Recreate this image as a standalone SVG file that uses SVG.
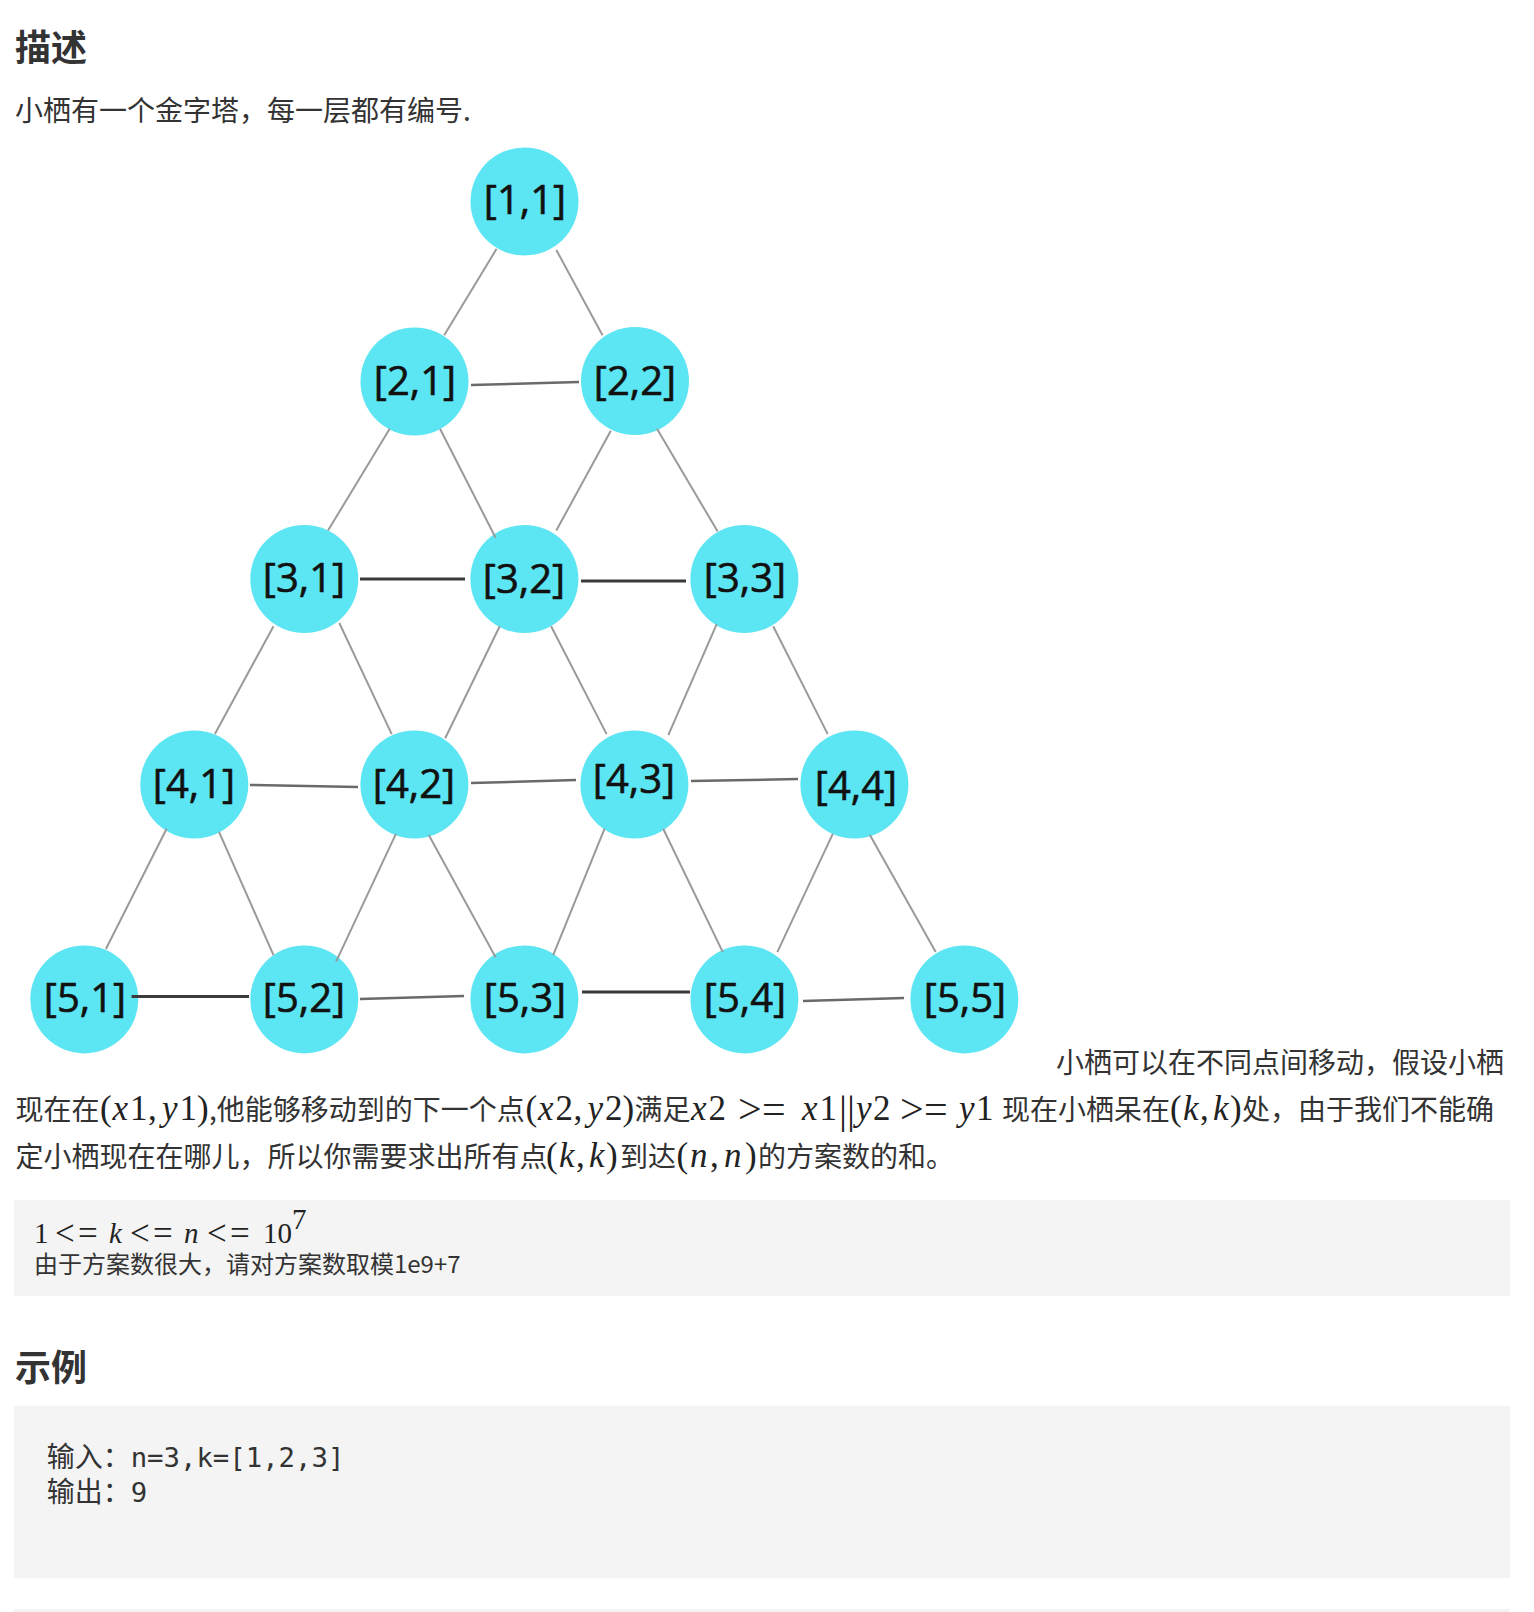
<svg xmlns="http://www.w3.org/2000/svg" width="1534" height="1612" viewBox="0 0 1534 1612">
<style>
.h{font-family:"Noto Sans CJK SC","Noto Sans",sans-serif;font-weight:bold;font-size:36px;fill:#333}
.t{font-family:"Noto Sans CJK SC","Noto Sans",sans-serif;font-size:28px;fill:#333}
.s{font-family:"Noto Sans CJK SC","Noto Sans",sans-serif;font-size:24px;fill:#333}
.m{font-family:"Liberation Serif","Times New Roman",serif;font-size:35px;fill:#222}
.mb{font-family:"Liberation Serif","Times New Roman",serif;font-size:29px;fill:#222}
.i{font-style:italic}
.r{font-size:42px}
.rb{font-size:35px}
.bar{font-size:40px}
.mono{font-family:"DejaVu Sans Mono","Liberation Mono",monospace;font-size:27.3px;fill:#333}
.node circle{fill:#5ce5f3}
.node text{font-family:"Open Sans","Noto Sans",sans-serif;font-size:40px;fill:#111;stroke:#111;stroke-width:0.6;text-anchor:middle}
.d{stroke:#9a9a9a;stroke-width:2;fill:none}
.k{stroke:#3a3a3a;stroke-width:3;fill:none}
.g{stroke:#6a6a6a;stroke-width:2.5;fill:none}
.box{fill:#f4f4f4}
</style>
<rect width="1534" height="1612" fill="#fff"/>
<text class="h" x="15" y="61">描述</text>
<text class="t" x="15" y="121">小栖有一个金字塔，每一层都有编号.</text>

<g id="nodes">
<g id="n11" class="node"><circle cx="524.5" cy="201.5" r="54"/><text x="525" y="214">[1,1]</text></g>
<g id="n21" class="node"><circle cx="414.5" cy="381.5" r="54"/><text x="415" y="395">[2,1]</text></g>
<g id="n22" class="node"><circle cx="635" cy="381" r="54"/><text x="635" y="395">[2,2]</text></g>
<g id="n31" class="node"><circle cx="304.3" cy="579" r="54"/><text x="304" y="592">[3,1]</text></g>
<g id="n32" class="node"><circle cx="524.4" cy="579" r="54"/><text x="524" y="593">[3,2]</text></g>
<g id="n33" class="node"><circle cx="744.4" cy="579" r="54"/><text x="745" y="592">[3,3]</text></g>
<g id="n41" class="node"><circle cx="194.3" cy="784.5" r="54"/><text x="194" y="798">[4,1]</text></g>
<g id="n42" class="node"><circle cx="414.4" cy="784.5" r="54"/><text x="414" y="798">[4,2]</text></g>
<g id="n43" class="node"><circle cx="634.4" cy="784.5" r="54"/><text x="634" y="793">[4,3]</text></g>
<g id="n44" class="node"><circle cx="854.4" cy="784.5" r="54"/><text x="856" y="800">[4,4]</text></g>
<g id="n51" class="node"><circle cx="84.3" cy="999.4" r="54"/><text x="85" y="1012">[5,1]</text></g>
<g id="n52" class="node"><circle cx="304.3" cy="999.4" r="54"/><text x="304" y="1012">[5,2]</text></g>
<g id="n53" class="node"><circle cx="524.4" cy="999.4" r="54"/><text x="525" y="1012">[5,3]</text></g>
<g id="n54" class="node"><circle cx="744.4" cy="999.4" r="54"/><text x="745" y="1012">[5,4]</text></g>
<g id="n55" class="node"><circle cx="964.4" cy="999.4" r="54"/><text x="965" y="1012">[5,5]</text></g>
</g>

<g id="connectors">
<line class="d" x1="496.6" y1="248.8" x2="444.2" y2="335.2"/>
<line class="d" x1="556.3" y1="249.9" x2="602.5" y2="335.2"/>
<line class="g" x1="471" y1="385" x2="579" y2="382"/>
<line class="d" x1="389.7" y1="428.8" x2="328" y2="530.5"/>
<line class="d" x1="440" y1="428.8" x2="495.6" y2="537.7"/>
<line class="d" x1="610.8" y1="430.8" x2="556.3" y2="530.5"/>
<line class="d" x1="657" y1="428.8" x2="717.7" y2="531.6"/>
<line class="k" x1="360" y1="579" x2="465" y2="579"/>
<line class="k" x1="581" y1="581" x2="686" y2="581"/>
<line class="d" x1="273.5" y1="626.2" x2="214.9" y2="734.1"/>
<line class="d" x1="339.3" y1="623" x2="391.7" y2="734.1"/>
<line class="d" x1="499.7" y1="626.2" x2="445.2" y2="738.2"/>
<line class="d" x1="551.1" y1="626.2" x2="606.6" y2="734.1"/>
<line class="d" x1="716.7" y1="624.1" x2="668.3" y2="735.2"/>
<line class="d" x1="773.2" y1="626.2" x2="827.7" y2="734.1"/>
<line class="g" x1="250" y1="785" x2="358" y2="787"/>
<line class="g" x1="471" y1="783" x2="576" y2="780"/>
<line class="g" x1="691" y1="781" x2="798" y2="779"/>
<line class="d" x1="166.6" y1="828.7" x2="105.9" y2="949"/>
<line class="d" x1="219" y1="831.8" x2="273.5" y2="955.2"/>
<line class="d" x1="395.9" y1="833.9" x2="336.2" y2="961.4"/>
<line class="d" x1="428.8" y1="834.9" x2="495.6" y2="957.3"/>
<line class="d" x1="604.6" y1="828.7" x2="553.2" y2="955.2"/>
<line class="d" x1="663.2" y1="828.7" x2="722.8" y2="952.1"/>
<line class="d" x1="832.8" y1="833.9" x2="777.3" y2="952.1"/>
<line class="d" x1="869.9" y1="834.9" x2="935.7" y2="952.1"/>
<line class="k" x1="131.6" y1="996.5" x2="249" y2="996.5"/>
<line class="g" x1="360" y1="999" x2="464" y2="996"/>
<line class="k" x1="582" y1="992" x2="690" y2="992"/>
<line class="g" x1="803" y1="1001" x2="904" y2="998"/>
</g>

<text class="t" x="1056" y="1073">小栖可以在不同点间移动，假设小栖</text>

<text class="t" x="15.4" y="1120">现在在</text>
<text class="m" y="1120"><tspan x="100">(</tspan><tspan x="112.5" class="i">x</tspan><tspan x="130">1</tspan><tspan x="148">,</tspan><tspan x="162" class="i">y</tspan><tspan x="179.5">1</tspan><tspan x="197">)</tspan></text>
<text class="t" x="209" y="1120">,他能够移动到的下一个点</text>
<text class="m" y="1120"><tspan x="525.4">(</tspan><tspan x="538" class="i">x</tspan><tspan x="555.5">2</tspan><tspan x="573.5">,</tspan><tspan x="587.5" class="i">y</tspan><tspan x="605">2</tspan><tspan x="622.5">)</tspan></text>
<text class="t" x="634.4" y="1120">满足</text>
<text class="m" y="1120"><tspan x="691" class="i">x</tspan><tspan x="708.5">2</tspan><tspan x="738" dy="3" class="r">&gt;</tspan><tspan x="762" class="r">=</tspan><tspan x="802" dy="-3" class="i">x</tspan><tspan x="819.5">1</tspan><tspan x="839" dy="3" class="bar">|</tspan><tspan x="847" class="bar">|</tspan><tspan x="856" dy="-3" class="i">y</tspan><tspan x="873">2</tspan><tspan x="900" dy="3" class="r">&gt;</tspan><tspan x="924" class="r">=</tspan><tspan x="959" dy="-3" class="i">y</tspan><tspan x="976">1</tspan></text>
<text class="t" x="1002" y="1120">现在小栖呆在</text>
<text class="m" y="1120"><tspan x="1170">(</tspan><tspan x="1183" class="i">k</tspan><tspan x="1200">,</tspan><tspan x="1213" class="i">k</tspan><tspan x="1230">)</tspan></text>
<text class="t" x="1242" y="1120">处，由于我们不能确</text>

<text class="t" x="15.4" y="1167">定小栖现在在哪儿，所以你需要求出所有点</text>
<text class="m" y="1167"><tspan x="546">(</tspan><tspan x="559" class="i">k</tspan><tspan x="576">,</tspan><tspan x="589" class="i">k</tspan><tspan x="606">)</tspan></text>
<text class="t" x="620" y="1167">到达</text>
<text class="m" y="1167"><tspan x="676.6">(</tspan><tspan x="690" class="i">n</tspan><tspan x="710">,</tspan><tspan x="724" class="i">n</tspan><tspan x="745">)</tspan></text>
<text class="t" x="758" y="1167">的方案数的和。</text>

<rect class="box" x="14" y="1200" width="1496" height="96"/>
<text class="mb" y="1243"><tspan x="34">1</tspan><tspan x="55" dy="2" class="rb">&lt;</tspan><tspan x="78" class="rb">=</tspan><tspan x="109" dy="-2" class="i">k</tspan><tspan x="130" dy="2" class="rb">&lt;</tspan><tspan x="153" class="rb">=</tspan><tspan x="184" dy="-2" class="i">n</tspan><tspan x="207" dy="2" class="rb">&lt;</tspan><tspan x="230" class="rb">=</tspan><tspan x="263" dy="-2">10</tspan></text>
<text class="mb" x="292" y="1229" font-size="16">7</text>
<text class="s" x="34" y="1273">由于方案数很大，请对方案数取模1e9+7</text>

<text class="h" x="15" y="1381">示例</text>
<rect class="box" x="14" y="1406" width="1496" height="172"/>
<text class="t" x="46.7" y="1467">输入：</text>
<text class="mono" x="130.7" y="1467">n=3,k=[1,2,3]</text>
<text class="t" x="46.7" y="1502">输出：</text>
<text class="mono" x="130.7" y="1502">9</text>
<rect class="box" x="14" y="1609" width="1496" height="3"/>
</svg>
